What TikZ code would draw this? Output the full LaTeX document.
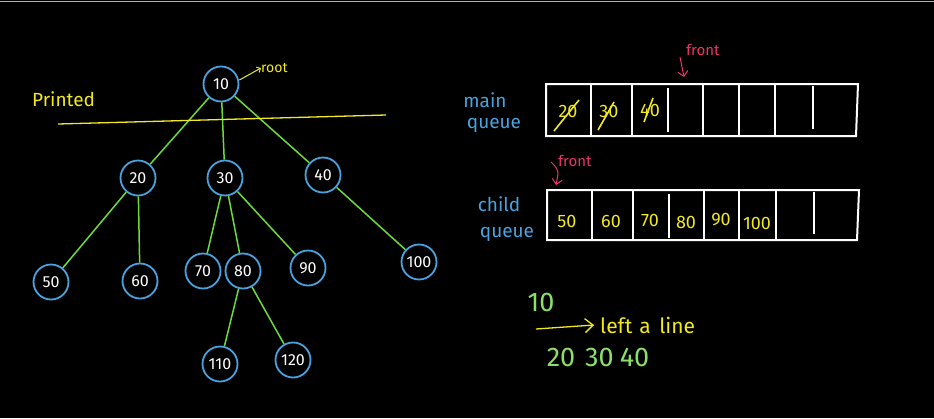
\documentclass[tikz,border=0pt]{standalone}
\usepackage{fontspec}
\setmainfont{Fira Sans}
\usetikzlibrary{arrows.meta}
\definecolor{treeblue}{HTML}{4AA3DF}
\definecolor{edgegreen}{HTML}{6BDB3A}
\definecolor{penyellow}{HTML}{F2EA1E}
\definecolor{penpink}{HTML}{E8336B}
\definecolor{numgreen}{HTML}{8BE06A}
\tikzset{
  treenode/.style={circle, draw=treeblue, line width=1.8pt, minimum size=35pt, inner sep=0pt,
    text=white, font=\fontsize{16}{16}\selectfont},
  treeedge/.style={draw=edgegreen, line width=1.5pt},
  queuebox/.style={draw=white, line width=2pt},
  cellval/.style={text=penyellow, font=\fontsize{18}{18}\selectfont, inner sep=0pt},
  strike/.style={draw=penyellow, line width=1.6pt},
  bluelabel/.style={text=treeblue, font=\fontsize{19}{19}\selectfont, inner sep=0pt},
  pinklabel/.style={text=penpink, font=\fontsize{15}{15}\selectfont, inner sep=0pt},
  yellowlabel/.style={text=penyellow, font=\fontsize{19}{19}\selectfont, inner sep=0pt},
  greenlabel/.style={text=numgreen, font=\fontsize{27}{27}\selectfont, inner sep=0pt},
  pinkarrow/.style={draw=penpink, line width=1pt, -{Straight Barb[length=5pt]}},
  yellowarrow/.style={draw=penyellow, line width=1.3pt, -{Straight Barb[length=8pt,width=14pt]}},
}
\begin{document}
\begin{tikzpicture}[x=1pt,y=-1pt]
\fill[black] (0,0) rectangle (934,418);
\useasboundingbox (0,0) rectangle (934,418);
\draw[gray!60, line width=1pt] (0,1.5) -- (934,1.5);

% ---- tree ----
\node[treenode] (n10)  at (221,84)  {10};
\node[treenode] (n20)  at (138,178) {20};
\node[treenode] (n30)  at (225,178) {30};
\node[treenode] (n40)  at (323,175) {40};
\node[treenode] (n50)  at (51,282)  {50};
\node[treenode] (n60)  at (140,281) {60};
\node[treenode] (n70)  at (203,271) {70};
\node[treenode] (n80)  at (243,271) {80};
\node[treenode] (n90)  at (308,268) {90};
\node[treenode] (n100) at (419,262) {100};
\node[treenode] (n110) at (220,364) {110};
\node[treenode] (n120) at (293,360) {120};

\foreach \a/\b in {n10/n20, n10/n30, n10/n40, n20/n50, n20/n60, n30/n70,
                   n30/n80, n30/n90, n40/n100, n80/n110, n80/n120}
  \draw[treeedge] (\a) -- (\b);

% printed divider and root marker
\coordinate (divL) at (58,124);
\coordinate (divR) at (386,115);
\draw[penyellow, line width=1.3pt] (divL) -- (divR);
\node[yellowlabel, anchor=west] (printed) at (32,99) {Printed};
\node[text=penyellow, font=\fontsize{14}{14}\selectfont, inner sep=0pt, anchor=west] (rootlbl) at (261,68) {root};
\draw[draw=penyellow, line width=1pt, -{Straight Barb[length=3pt]}] (n10.east) ++(0,-4) -- (rootlbl.west);

% ---- main queue ----
\node[bluelabel] (mainlbl) at (485,100) {main};
\node[bluelabel] (mainq) at (494,125) {queue};
\draw[queuebox] (546,84) -- (858,84) -- (856,136) -- (546,136) -- cycle;
\foreach \x in {591,632,703,739,775}
  \draw[queuebox] (\x,84) -- (\x,136);
\draw[queuebox] (668,88) -- (668,132);
\draw[queuebox] (813,86) -- (813,129);
\node[cellval] (m20) at (568,111) {20};
\node[cellval] (m30) at (609,111) {30};
\node[cellval] (m40) at (650,110) {40};
\draw[strike] (554,131) -- (579,100);
\draw[strike] (598,130) -- (614,102);
\draw[strike] (644,122) -- (653,98);

\node[pinklabel, anchor=west] (front1) at (686,50) {front};
\coordinate (f1a) at (680,57);
\coordinate (f1b) at (684,77);
\draw[pinkarrow] (f1a) -- (f1b);

% ---- child queue ----
\node[bluelabel] (childlbl) at (499,204) {child};
\node[bluelabel] (childq) at (507,234) {queue};
\draw[queuebox] (547,190) -- (859,190) -- (857,240) -- (547,240) -- cycle;
\foreach \x in {592,633,704,739,776}
  \draw[queuebox] (\x,190) -- (\x,240);
\draw[queuebox] (669,194) -- (669,238);
\draw[queuebox] (814,192) -- (814,234);
\node[cellval] (c50)  at (567,221) {50};
\node[cellval] (c60)  at (611,221) {60};
\node[cellval] (c70)  at (650,220) {70};
\node[cellval] (c80)  at (686,222) {80};
\node[cellval] (c90)  at (721,220) {90};
\node[cellval] (c100) at (757,223) {100};

\node[pinklabel, anchor=west] (front2) at (558,161) {front};
\coordinate (f2a) at (551,162);
\coordinate (f2b) at (556,185);
\draw[pinkarrow] (f2a) .. controls (559,170) .. (f2b);

% ---- printed output ----
\node[greenlabel] (out10) at (541,302) {10};
\node[yellowlabel, anchor=west, font=\fontsize{21}{21}\selectfont] (newline) at (600,325) {left\hspace{7pt}a\hspace{3pt} line};
\coordinate (nlstart) at (536,329);
\draw[yellowarrow] (nlstart) -- ([xshift=-6pt]newline.west);
\node[greenlabel] (out2) at (598,357) {20\hspace{10pt}30\hspace{6pt}40};
\end{tikzpicture}
\end{document}
